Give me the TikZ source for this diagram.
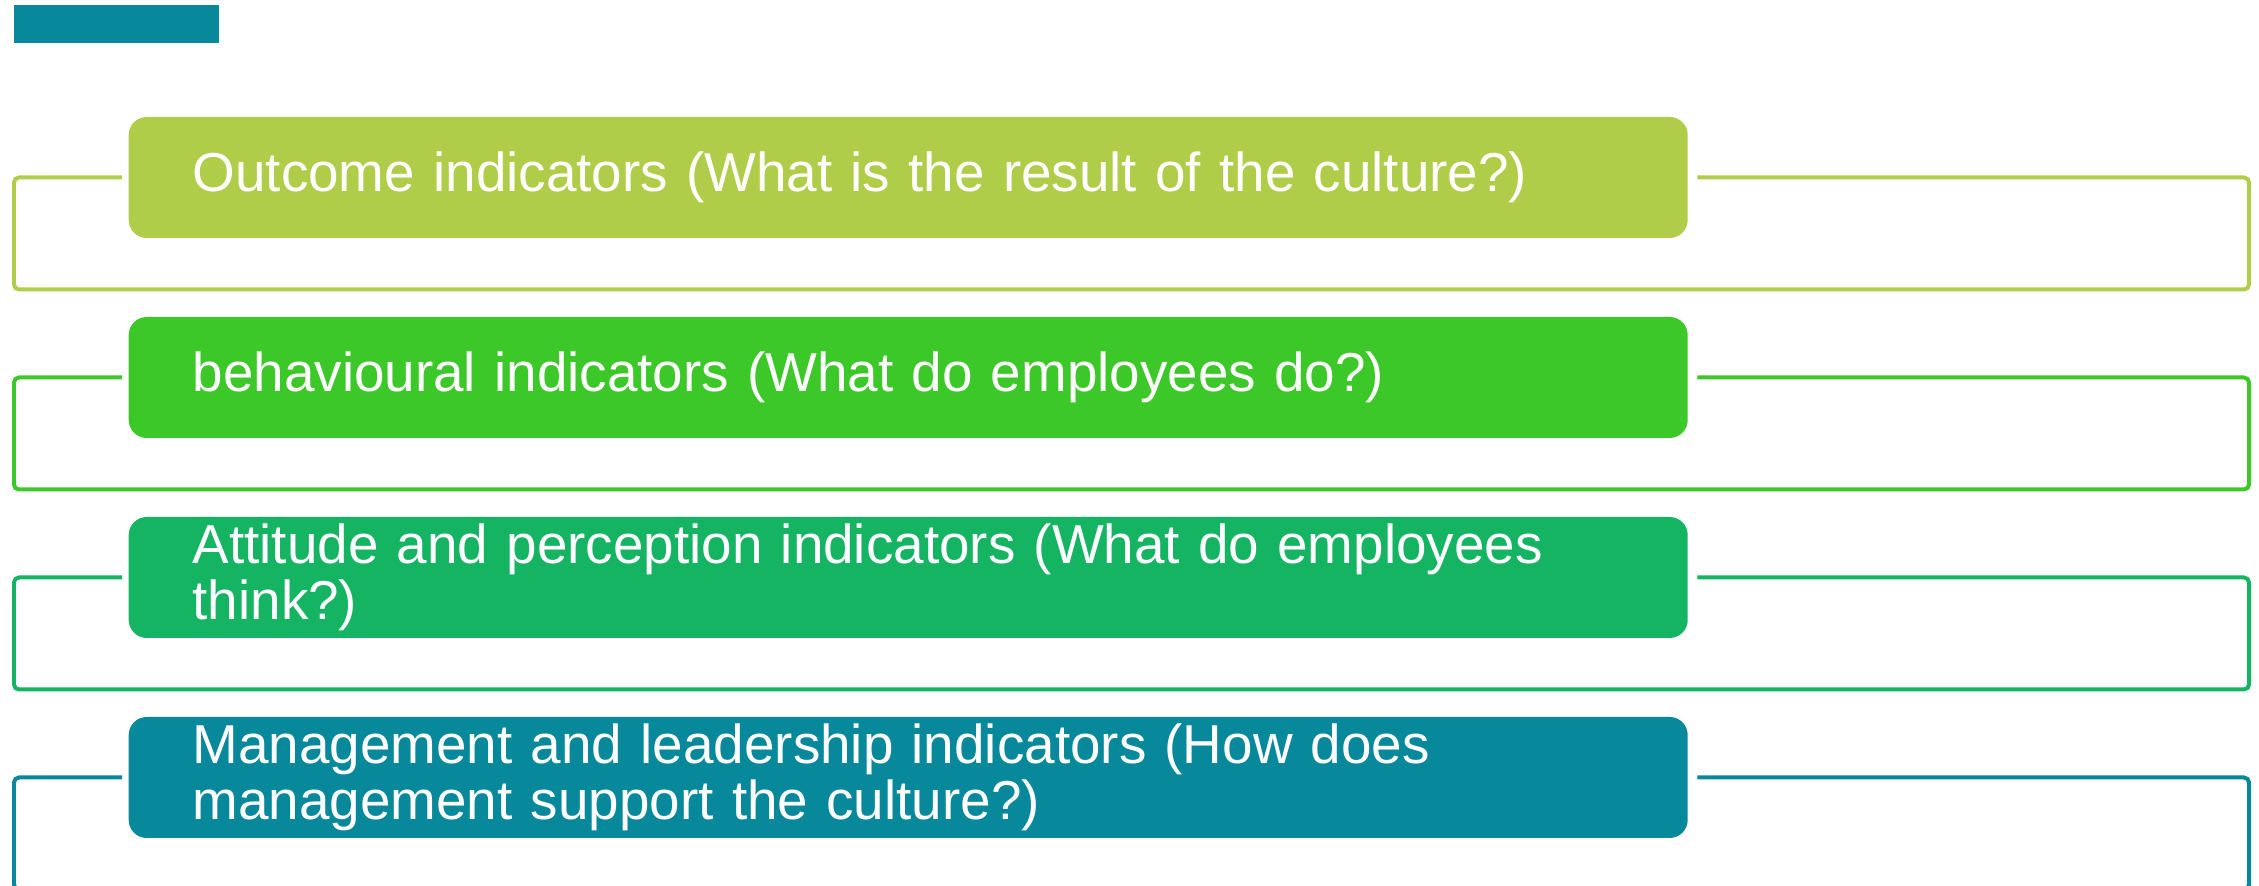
\documentclass[tikz,border=0pt]{standalone}
\usepackage{fontspec}
\setmainfont{Liberation Sans}
\usepackage{tikz}
\usetikzlibrary{calc}
\usetikzlibrary{positioning}
\definecolor{lvOlive}{RGB}{176,205,74}
\definecolor{lvGreen}{RGB}{60,200,40}
\definecolor{lvJade}{RGB}{21,180,98}
\definecolor{lvTeal}{RGB}{7,136,155}
\tikzset{I/.style={rectangle,rounded corners=0.18cm,fill=#1,text=white,minimum height=1.21cm,text width=14.31cm,inner xsep=0.64cm,inner ysep=0pt,align=left,font=\fontsize{15.6pt}{16pt}\selectfont}}
\tikzset{F/.style={draw=#1,line width=0.4mm,rounded corners=0.5mm}}

\begin{document}
\begin{tikzpicture}
\useasboundingbox (0,0) rectangle (22.59,8.86);

\node[fill=lvTeal,minimum width=2.05cm,minimum height=0.38cm,inner sep=0pt,anchor=north west] (tab) at (0.13,8.82) {};

\foreach \i/\c/\t in {1/lvOlive/{Outcome indicators (What is the result of the culture?)},
  2/lvGreen/{behavioural indicators (What do employees do?)},
  3/lvJade/{Attitude and perception indicators (What do employees\\think?)},
  4/lvTeal/{Management and leadership indicators (How does\\management support the culture?)}}
  {
 \pgfmathsetmacro{\y}{9.085-2*\i}
 \node[I=\c,anchor=west] (b\i) at (1.28,\y) {\t};
 \draw[F=\c] ($(b\i.west)+(-0.06,0)$) -| (0.14,\y-1.12) -| (22.49,\y) -- ($(b\i.east)+(0.09,0)$);
 }

\end{tikzpicture}
\end{document}
